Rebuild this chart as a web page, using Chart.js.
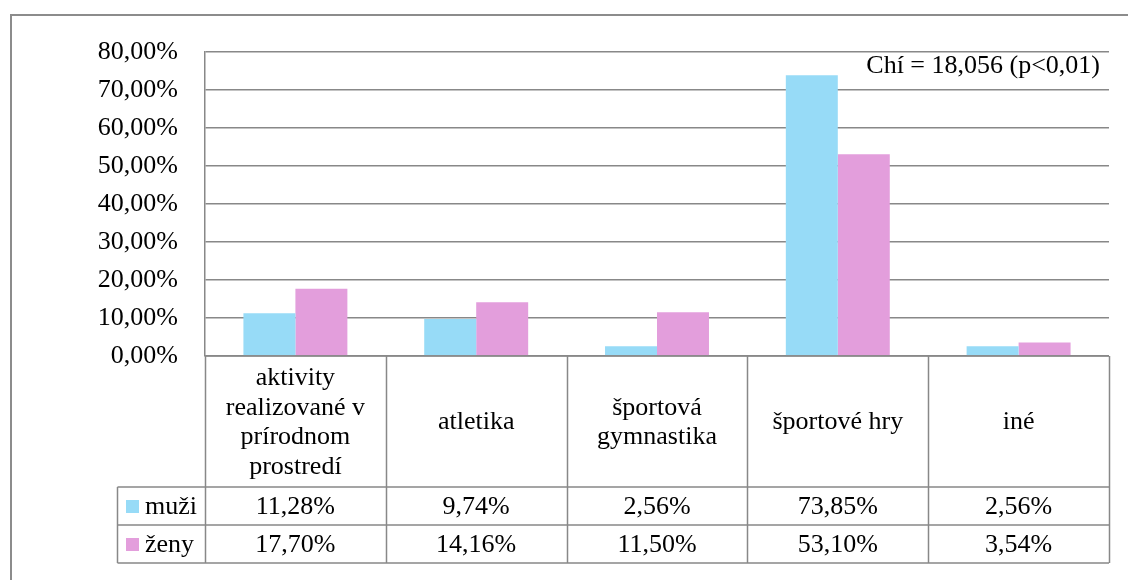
<!DOCTYPE html>
<html>
<head>
<meta charset="utf-8">
<script src="https://cdn.jsdelivr.net/npm/chart.js@4/dist/chart.umd.min.js"></script>
<style>
  html, body { margin: 0; padding: 0; background: #fff; }
  #wrap { position: relative; width: 1128px; height: 580px; }
</style>
</head>
<body>
<div id="wrap"><canvas id="chart" width="1128" height="580"></canvas></div>
<script>
// kategorie (riadky popisu pod grafom)
const categories = [
    ['aktivity', 'realizované v', 'prírodnom', 'prostredí'],
    ['atletika'],
    ['športová', 'gymnastika'],
    ['športové hry'],
    ['iné']
];
const seriesNames = ['muži', 'ženy'];
const muzi = [11.28, 9.74, 2.56, 73.85, 2.56];
const zeny = [17.70, 14.16, 11.50, 53.10, 3.54];
const yTicks = [0, 10, 20, 30, 40, 50, 60, 70, 80];
const note = 'Chí = 18,056 (p<0,01)';

const colors = {
    muzi: '#97dbf7',
    zeny: '#e39edc',
    grid: '#888888',
    text: '#000000'
};
const FONT = "26px 'Liberation Serif', 'Times New Roman', serif";

function pct(v) {
    return v.toFixed(2).replace('.', ',') + '%';
}

// ramcek okolo celeho grafu
const frame = {
    id: 'frame',
    beforeDraw(chart) {
        const ctx = chart.ctx;
        ctx.save();
        ctx.strokeStyle = '#8c8c8c';
        ctx.lineWidth = 2;
        ctx.strokeRect(11, 15, 1300, 800);
        ctx.restore();
    }
};

// tabulka s hodnotami pod grafom + poznamka Chí
const dataTable = {
    id: 'dataTable',
    afterDraw(chart) {
        const ctx = chart.ctx;
        const area = chart.chartArea;
        const n = categories.length;
        const colW = (area.right - area.left) / n;
        const top = area.bottom;
        const headBottom = top + 131;
        const rowH = 38;
        const legendLeft = 117.5;
        const rows = [muzi, zeny];
        const swatch = [colors.muzi, colors.zeny];

        ctx.save();
        ctx.strokeStyle = colors.grid;
        ctx.lineWidth = 1.5;

        // vodorovne ciary
        ctx.beginPath();
        ctx.moveTo(area.left, top);
        ctx.lineTo(area.right, top);
        for (let r = 0; r <= rows.length; r++) {
            const y = headBottom + r * rowH;
            ctx.moveTo(legendLeft, y);
            ctx.lineTo(area.right, y);
        }
        // zvisle ciary
        for (let c = 0; c <= n; c++) {
            const x = Math.round(area.left + c * colW) + 0.5;
            ctx.moveTo(x, top);
            ctx.lineTo(x, headBottom + rows.length * rowH);
        }
        ctx.moveTo(legendLeft, headBottom);
        ctx.lineTo(legendLeft, headBottom + rows.length * rowH);
        ctx.stroke();

        ctx.fillStyle = colors.text;
        ctx.font = FONT;
        ctx.textAlign = 'center';
        ctx.textBaseline = 'middle';

        // popisy kategorii
        const lineH = 29.5;
        categories.forEach(function(lines, i) {
            const cx = area.left + (i + 0.5) * colW;
            const cy = (top + headBottom) / 2 + 1;
            lines.forEach(function(txt, k) {
                ctx.fillText(txt, cx, cy + (k - (lines.length - 1) / 2) * lineH);
            });
        });

        // hodnoty
        rows.forEach(function(vals, r) {
            const cy = headBottom + (r + 0.5) * rowH + 1;
            vals.forEach(function(v, i) {
                ctx.fillText(pct(v), area.left + (i + 0.5) * colW, cy);
            });
            ctx.fillStyle = swatch[r];
            ctx.fillRect(126, cy - 7, 13, 13);
            ctx.fillStyle = colors.text;
            ctx.textAlign = 'left';
            ctx.fillText(seriesNames[r], 145, cy);
            ctx.textAlign = 'center';
        });

        // poznamka
        ctx.textAlign = 'right';
        ctx.fillText(note, 1100, 66);
        ctx.restore();
    }
};

new Chart(document.getElementById('chart'), {
    type: 'bar',
    data: {
        labels: categories,
        datasets: [
            { label: seriesNames[0], data: muzi, backgroundColor: colors.muzi },
            { label: seriesNames[1], data: zeny, backgroundColor: colors.zeny }
        ]
    },
    options: {
        responsive: false,
        animation: false,
        events: [],
        layout: {
            padding: { left: 0, top: 52, right: 19, bottom: 224 }
        },
        datasets: {
            bar: { categoryPercentage: 0.575, barPercentage: 1.0, borderWidth: 0 }
        },
        plugins: {
            legend: { display: false },
            tooltip: { enabled: false }
        },
        scales: {
            x: { display: false },
            y: {
                min: 0,
                max: 80,
                afterFit: function(scale) { scale.width = 205; },
                afterBuildTicks: function(scale) {
                    scale.ticks = yTicks.map(function(v) { return { value: v }; });
                },
                grid: { color: colors.grid, lineWidth: 1.5, drawTicks: false },
                border: { display: true, color: colors.grid, width: 1.5 },
                ticks: {
                    padding: 27,
                    color: colors.text,
                    font: { family: "'Liberation Serif', 'Times New Roman', serif", size: 26 },
                    callback: function(value) { return pct(value); }
                }
            }
        }
    },
    plugins: [frame, dataTable]
});
</script>
</body>
</html>
